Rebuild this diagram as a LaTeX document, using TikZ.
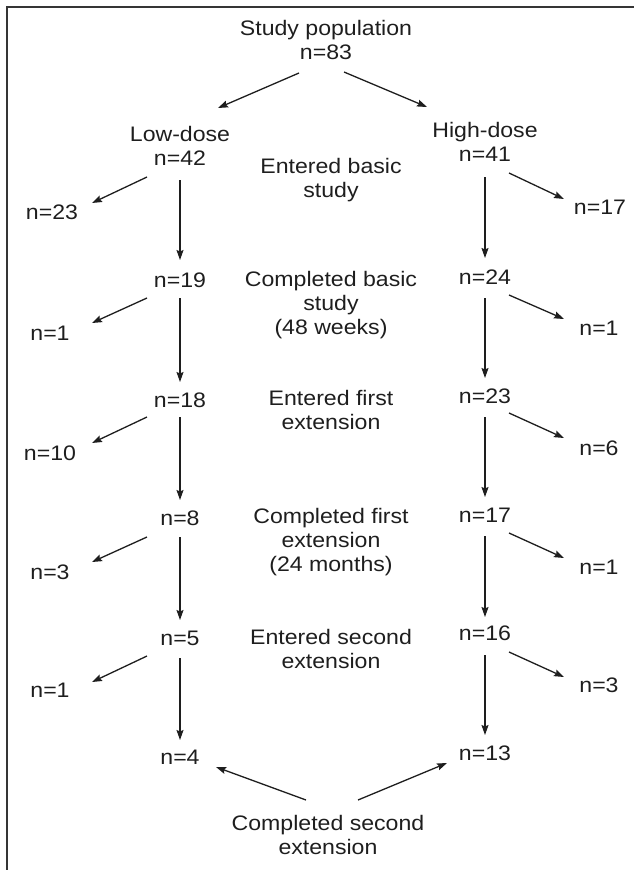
\documentclass[tikz,border=0pt]{standalone}
\usepackage{fontspec}
\setmainfont{Liberation Sans}[FakeStretch=1.1]
\usetikzlibrary{arrows.meta}
\definecolor{ink}{RGB}{30,30,30}
\begin{document}
\begin{tikzpicture}[x=1pt,y=-1pt,
  lbl/.style={inner sep=0pt,align=center,text=ink,font=\fontsize{21}{24}\selectfont},
  arr/.style={draw=ink,line width=1.3pt,-{Stealth[length=10pt,width=7pt,inset=1.5pt]}},
  frm/.style={draw=ink!90,line width=1.5pt}]
\useasboundingbox (0,0) rectangle (634,870);
\draw[frm] (7,870) -- (7,7) -- (634,7);
% nodes
\node[lbl] (pop) at (326,40) {Study population\\n=83};
\node[lbl] (low) at (180,146) {Low-dose\\n=42};
\node[lbl] (high) at (485,142) {High-dose\\n=41};
\node[lbl] (t1) at (331,180) {Entered basic\\study};
\node[lbl] (L23) at (52,212) {n=23};
\node[lbl] (H17) at (600,207) {n=17};
\node[lbl] (L19) at (180,280) {n=19};
\node[lbl] (t2) at (331,305) {Completed basic\\study\\(48 weeks)};
\node[lbl] (H24) at (485,277) {n=24};
\node[lbl] (L1a) at (50,333) {n=1};
\node[lbl] (H1a) at (599,328) {n=1};
\node[lbl] (L18) at (180,400) {n=18};
\node[lbl] (t3) at (331,410) {Entered first\\extension};
\node[lbl] (H23) at (485,396) {n=23};
\node[lbl] (L10) at (50,453) {n=10};
\node[lbl] (H6) at (599,448) {n=6};
\node[lbl] (L8) at (180,518) {n=8};
\node[lbl] (t4) at (331,542) {Completed first\\extension\\(24 months)};
\node[lbl] (H17b) at (485,515) {n=17};
\node[lbl] (L3) at (50,572) {n=3};
\node[lbl] (H1b) at (599,567) {n=1};
\node[lbl] (L5) at (180,638) {n=5};
\node[lbl] (t5) at (331,649) {Entered second\\extension};
\node[lbl] (H16) at (485,633) {n=16};
\node[lbl] (L1c) at (50,690) {n=1};
\node[lbl] (H3) at (599,685) {n=3};
\node[lbl] (L4) at (180,757) {n=4};
\node[lbl] (H13) at (485,753) {n=13};
\node[lbl] (t6) at (328,835) {Completed second\\extension};
% connectors
\draw[arr] ([shift={(-27,33)}]pop.center) -- ([shift={(38,-38)}]low.center);
\draw[arr] ([shift={(18,32)}]pop.center) -- ([shift={(-58,-35)}]high.center);
\draw[arr] ([shift={(-33,31)}]low.center) -- ([shift={(40,-9)}]L23.center);
\draw[arr] ([shift={(0,34)}]low.center) -- ([shift={(0,-20)}]L19.center);
\draw[arr] ([shift={(24,31)}]high.center) -- ([shift={(-36,-8)}]H17.center);
\draw[arr] ([shift={(0,35)}]high.center) -- ([shift={(0,-19)}]H24.center);
\draw[arr] ([shift={(-33,18)}]L19.center) -- ([shift={(42,-10)}]L1a.center);
\draw[arr] ([shift={(0,18)}]L19.center) -- ([shift={(0,-18)}]L18.center);
\draw[arr] ([shift={(24,18)}]H24.center) -- ([shift={(-35,-9)}]H1a.center);
\draw[arr] ([shift={(0,21)}]H24.center) -- ([shift={(0,-18)}]H23.center);
\draw[arr] ([shift={(-33,17)}]L18.center) -- ([shift={(42,-10)}]L10.center);
\draw[arr] ([shift={(0,17)}]L18.center) -- ([shift={(0,-18)}]L8.center);
\draw[arr] ([shift={(24,17)}]H23.center) -- ([shift={(-35,-10)}]H6.center);
\draw[arr] ([shift={(0,21)}]H23.center) -- ([shift={(0,-18)}]H17b.center);
\draw[arr] ([shift={(-33,19)}]L8.center) -- ([shift={(42,-10)}]L3.center);
\draw[arr] ([shift={(0,19)}]L8.center) -- ([shift={(0,-18)}]L5.center);
\draw[arr] ([shift={(24,18)}]H17b.center) -- ([shift={(-35,-9)}]H1b.center);
\draw[arr] ([shift={(0,21)}]H17b.center) -- ([shift={(0,-16)}]H16.center);
\draw[arr] ([shift={(-33,18)}]L5.center) -- ([shift={(42,-8)}]L1c.center);
\draw[arr] ([shift={(0,20)}]L5.center) -- ([shift={(0,-17)}]L4.center);
\draw[arr] ([shift={(24,19)}]H16.center) -- ([shift={(-35,-8)}]H3.center);
\draw[arr] ([shift={(0,22)}]H16.center) -- ([shift={(0,-18)}]H13.center);
\draw[arr] ([shift={(-22,-35)}]t6.center) -- ([shift={(36,10)}]L4.center);
\draw[arr] ([shift={(30,-35)}]t6.center) -- ([shift={(-38,10)}]H13.center);
\end{tikzpicture}
\end{document}
